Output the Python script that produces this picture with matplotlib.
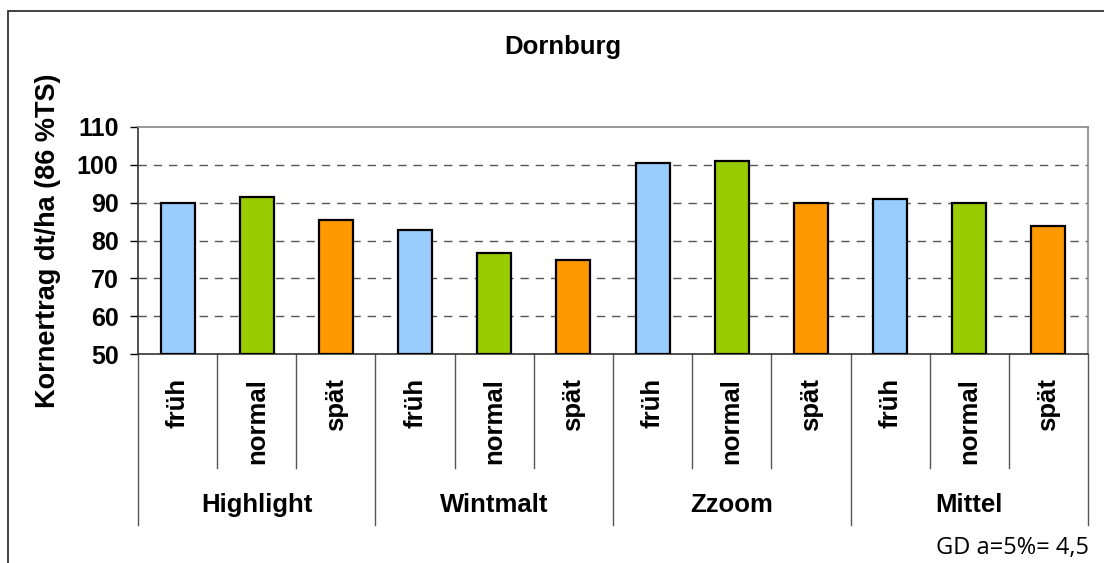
import matplotlib.pyplot as plt
from matplotlib.patches import Rectangle
import numpy as np

# data
groups = ['Highlight', 'Wintmalt', 'Zzoom', 'Mittel']
times = ['früh', 'normal', 'spät']
ertrag = [90.0, 91.6, 85.5,
          82.8, 76.6, 74.9,
          100.5, 101.1, 90.0,
          91.1, 90.0, 83.9]
farben = ['#99CCFF', '#99CC00', '#FF9900']

plt.rcParams['font.family'] = ['Liberation Sans', 'DejaVu Sans']

W, H = 1104, 563
fig = plt.figure(figsize=(W / 100, H / 100), dpi=100)

# plot area in pixels
left, right, top, bottom = 138, 1088, 127, 354
ax = fig.add_axes([left / W, 1 - bottom / H, (right - left) / W, (bottom - top) / H])

n = len(ertrag)
x = np.arange(n)
cols = [farben[i % 3] for i in range(n)]
ax.bar(x, [v - 50 for v in ertrag], bottom=50, width=0.43, color=cols,
       edgecolor='black', linewidth=1.6, zorder=3)

ax.set_xlim(-0.5, n - 0.5)
ax.set_ylim(50, 110)
ax.set_yticks(range(50, 111, 10))
ax.tick_params(axis='y', length=6, width=1, pad=8, labelsize=18, direction='out')
for lbl in ax.get_yticklabels():
    lbl.set_fontweight('bold')
ax.set_xticks([])

# dashed grid
for yv in range(60, 110, 10):
    ax.axhline(yv, color='#555555', linestyle=(0, (6, 5)), linewidth=1, zorder=1)

for s in ['top', 'right']:
    ax.spines[s].set_color('#888888')
    ax.spines[s].set_linewidth(1.2)
for s in ['left', 'bottom']:
    ax.spines[s].set_color('#333333')
    ax.spines[s].set_linewidth(1.2)

ax.set_ylabel('Kornertrag dt/ha (86 %TS)', fontsize=19.5, fontweight='bold')
ax.yaxis.set_label_coords(-(left - 48) / (right - left), 0.5)
ax.yaxis.label.set_verticalalignment('center')

# category axis: labels and divider lines
trans = ax.get_xaxis_transform()
ah = bottom - top
inner_end = -(468 - bottom) / ah
group_end = -(525 - bottom) / ah
for i in range(n + 1):
    xb = i - 0.5
    yend = group_end if i % 3 == 0 else inner_end
    ax.plot([xb, xb], [0, yend], transform=trans, color='#555555', linewidth=1,
            clip_on=False)
for i in range(n):
    ax.text(x[i], -(378 - bottom) / ah, times[i % 3], transform=trans,
            rotation=90, ha='center', va='top', fontsize=18.5, fontweight='bold')
for g, name in enumerate(groups):
    ax.text(g * 3 + 1, -(505 - bottom) / ah, name, transform=trans,
            ha='center', va='center', fontsize=18.5, fontweight='bold')

fig.text(563 / W, 1 - 47 / H, 'Dornburg', ha='center', va='center',
         fontsize=18.5, fontweight='bold')
fig.text(1089 / W, 1 - 548 / H, 'GD a=5%= 4,5', ha='right', va='center',
         fontsize=17, family=['Open Sans', 'DejaVu Sans'])

# outer chart frame
fig.patches.append(Rectangle((8 / W, -0.1), 1.2, 1 - 11 / H + 0.1,
                             transform=fig.transFigure, fill=False,
                             edgecolor='#222222', linewidth=1.2))

fig.savefig('out.png', dpi=100)
